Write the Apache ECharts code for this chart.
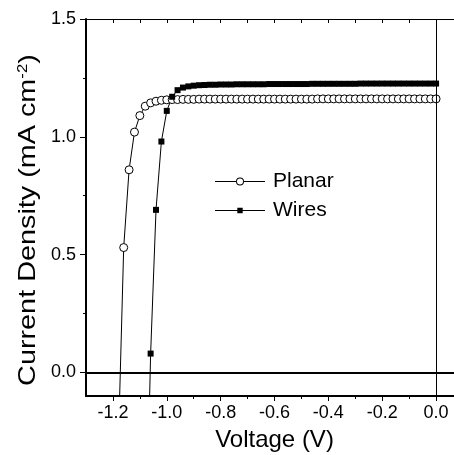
<!DOCTYPE html>
<html>
<head>
<meta charset="utf-8">
<script src="https://cdn.jsdelivr.net/npm/echarts@6/dist/echarts.min.js"></script>
<style>
  html, body { margin: 0; padding: 0; background: #fff; }
  #chart { width: 454px; height: 455px; }
</style>
</head>
<body>
<div id="chart"></div>
<script>
// voltage sweep (V)
const voltage = [
  -1.18, -1.16, -1.14, -1.12, -1.10, -1.08, -1.06, -1.04, -1.02, -1.00,
  -0.98, -0.96, -0.94, -0.92, -0.90, -0.88, -0.86, -0.84, -0.82, -0.80,
  -0.78, -0.76, -0.74, -0.72, -0.70, -0.68, -0.66, -0.64, -0.62, -0.60,
  -0.58, -0.56, -0.54, -0.52, -0.50, -0.48, -0.46, -0.44, -0.42, -0.40,
  -0.38, -0.36, -0.34, -0.32, -0.30, -0.28, -0.26, -0.24, -0.22, -0.20,
  -0.18, -0.16, -0.14, -0.12, -0.10, -0.08, -0.06, -0.04, -0.02, 0.00
]
// current density (mA cm-2)
const planar = [
  -0.31, 0.53, 0.86, 1.02, 1.09, 1.13, 1.144, 1.151, 1.155, 1.157,
  1.158, 1.158, 1.159, 1.159, 1.159, 1.160, 1.160, 1.160, 1.160, 1.160,
  1.160, 1.160, 1.160, 1.160, 1.160, 1.160, 1.160, 1.160, 1.160, 1.160,
  1.160, 1.160, 1.160, 1.160, 1.160, 1.160, 1.160, 1.161, 1.161, 1.161,
  1.161, 1.161, 1.161, 1.161, 1.161, 1.161, 1.161, 1.161, 1.161, 1.161,
  1.161, 1.161, 1.161, 1.161, 1.161, 1.161, 1.161, 1.161, 1.161, 1.161
]
const wires = [
  null, null, null, null, null, -0.90, 0.08, 0.69, 0.98, 1.11,
  1.17, 1.198, 1.209, 1.214, 1.217, 1.219, 1.220, 1.221, 1.221, 1.222,
  1.222, 1.222, 1.223, 1.223, 1.223, 1.223, 1.223, 1.223, 1.224, 1.224,
  1.224, 1.224, 1.224, 1.224, 1.224, 1.224, 1.225, 1.225, 1.225, 1.225,
  1.225, 1.225, 1.225, 1.225, 1.225, 1.226, 1.226, 1.226, 1.226, 1.226,
  1.226, 1.226, 1.226, 1.226, 1.226, 1.226, 1.226, 1.226, 1.226, 1.226
]

// tick positions
const xMajor = [-1.2, -1.0, -0.8, -0.6, -0.4, -0.2, 0.0]
const xMinor = [-1.1, -0.9, -0.7, -0.5, -0.3, -0.1]
const xTop = [-1.2, -1.1, -1.0, -0.9, -0.8, -0.7, -0.6, -0.5, -0.4, -0.3, -0.2, -0.1, 0.0]
const yMajor = [0.0, 0.5, 1.0, 1.5]
const yMinor = [0.25, 0.75, 1.25]

const font = '"Liberation Sans", Arial, sans-serif'
const black = '#000'

const gridBox = { left: 86, top: 19, right: -9, bottom: 59, outerBoundsMode: 'none', containLabel: false }

// legend icons: thin line + hollow circle / small filled square
const ringIcon = 'path://M0,4.5L21,4.5L21,5.5L0,5.5Z M29,4.5L50,4.5L50,5.5L29,5.5Z ' +
  'M21,5A4,4 0 1,0 29,5A4,4 0 1,0 21,5Z M22,5A3,3 0 1,1 28,5A3,3 0 1,1 22,5Z'
const squareIcon = 'path://M0,4.5L50,4.5L50,5.5L0,5.5Z M22.3,2.3L27.7,2.3L27.7,7.7L22.3,7.7Z'

const myChart = echarts.init(document.getElementById('chart'))

const option = {
  animation: false,
  backgroundColor: '#fff',
  textStyle: { fontFamily: font, color: black },
  grid: [
    Object.assign({}, gridBox),
    Object.assign({}, gridBox)
  ],
  legend: {
    data: [
      { name: 'Planar', icon: ringIcon, itemStyle: { color: black, borderWidth: 0 } },
      { name: 'Wires', icon: squareIcon, itemStyle: { color: black, borderWidth: 0 } }
    ],
    orient: 'vertical',
    left: 210,
    top: 166,
    padding: 5,
    itemWidth: 50,
    itemHeight: 10,
    itemGap: 8,
    selectedMode: false,
    textStyle: { fontSize: 21, color: black, fontFamily: font, padding: [0, 0, 0, 3] }
  },
  xAxis: [
    {
      // bottom, labelled ticks
      type: 'value',
      gridIndex: 0,
      position: 'bottom',
      min: -1.3,
      max: 0.1,
      name: 'Voltage (V)',
      nameLocation: 'middle',
      nameGap: 32,
      nameTextStyle: { fontSize: 24, color: black, fontFamily: font },
      axisLine: { show: true, onZero: false, lineStyle: { color: black, width: 2 } },
      axisTick: { show: true, customValues: xMajor, length: 5, lineStyle: { color: black, width: 1 } },
      axisLabel: {
        customValues: xMajor,
        formatter: v => v.toFixed(1),
        fontSize: 18,
        color: black,
        margin: 8
      },
      splitLine: { show: false }
    },
    {
      // top frame
      type: 'value',
      gridIndex: 0,
      position: 'top',
      min: -1.3,
      max: 0.1,
      axisLine: { show: true, onZero: false, lineStyle: { color: black, width: 1 } },
      axisTick: { show: true, inside: true, customValues: xTop, length: 4, lineStyle: { color: black, width: 1 } },
      axisLabel: { show: false },
      splitLine: { show: false }
    },
    {
      // bottom minor ticks
      type: 'value',
      gridIndex: 1,
      position: 'bottom',
      min: -1.3,
      max: 0.1,
      axisLine: { show: false, onZero: false },
      axisTick: { show: true, customValues: xMinor, length: 3, lineStyle: { color: black, width: 1 } },
      axisLabel: { show: false },
      splitLine: { show: false }
    }
  ],
  yAxis: [
    {
      type: 'value',
      gridIndex: 0,
      position: 'left',
      min: -0.1,
      max: 1.5,
      axisLine: { show: true, onZero: false, lineStyle: { color: black, width: 2 } },
      axisTick: { show: true, customValues: yMajor, length: 6, lineStyle: { color: black, width: 1 } },
      axisLabel: {
        customValues: yMajor,
        formatter: v => v.toFixed(1),
        fontSize: 18,
        color: black,
        margin: 10
      },
      splitLine: { show: false }
    },
    {
      type: 'value',
      gridIndex: 1,
      position: 'left',
      min: -0.1,
      max: 1.5,
      axisLine: { show: false, onZero: false },
      axisTick: { show: true, customValues: yMinor, length: 3, lineStyle: { color: black, width: 1 } },
      axisLabel: { show: false },
      splitLine: { show: false }
    }
  ],
  graphic: [
    {
      // y title, stretched along its length like the original
      type: 'text',
      x: 28,
      y: 220,
      rotation: Math.PI / 2,
      scaleX: 1.2,
      style: {
        text: 'Current Density (mA cm{sup|-2})',
        fontSize: 24,
        fontFamily: font,
        fill: black,
        align: 'center',
        verticalAlign: 'middle',
        rich: {
          sup: { fontSize: 14, fontFamily: font, fill: black, verticalAlign: 'top', lineHeight: 14 }
        }
      }
    }
  ],
  series: [
    {
      name: 'Planar',
      type: 'line',
      xAxisIndex: 0,
      yAxisIndex: 0,
      data: voltage.map((v, i) => [v, planar[i]]),
      symbol: 'circle',
      symbolSize: 8,
      showAllSymbol: true,
      itemStyle: { color: '#fff', borderColor: black, borderWidth: 1 },
      lineStyle: { color: black, width: 1 },
      markLine: {
        silent: true,
        symbol: ['none', 'none'],
        label: { show: false },
        lineStyle: { color: black, type: 'solid' },
        data: [
          { xAxis: 0, lineStyle: { color: black, width: 1, type: 'solid' } },
          { yAxis: 0, lineStyle: { color: black, width: 2, type: 'solid' } }
        ]
      }
    },
    {
      name: 'Wires',
      type: 'line',
      xAxisIndex: 0,
      yAxisIndex: 0,
      data: voltage.map((v, i) => [v, wires[i]]),
      symbol: 'rect',
      symbolSize: 6,
      showAllSymbol: true,
      itemStyle: { color: black },
      lineStyle: { color: black, width: 1 }
    }
  ]
}

myChart.setOption(option)
</script>
</body>
</html>
